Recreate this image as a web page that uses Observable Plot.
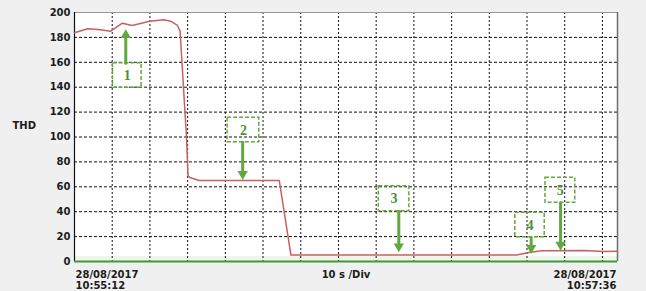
<!DOCTYPE html>
<html>
<head>
<meta charset="utf-8">
<script src="https://cdn.jsdelivr.net/npm/d3@7"></script>
<script src="https://cdn.jsdelivr.net/npm/@observablehq/plot@0.6"></script>
<style>
  html, body { margin: 0; padding: 0; background: #f0f0f0; }
</style>
</head>
<body>
<div id="chart"></div>
<script>
// ---- data (seconds since 10:55:12, THD value) ----
const times = [0, 3.5, 6.9, 9.6, 12.7, 15.3, 20, 23.7, 25.5, 27.3, 28.0, 29.7, 30.1, 30.6, 33, 54.3, 57.4, 117.2, 120.5, 123.8, 135, 140.5, 144];
const thd   = [183.7, 186.9, 186.1, 185, 191.4, 189.6, 193, 194.1, 193, 189.6, 185, 100, 69, 67.5, 65.1, 65.1, 5.2, 5.2, 7.2, 8.6, 8.8, 8.0, 8.2];

// axis ticks / gridlines
const yTicks = [0, 20, 40, 60, 80, 100, 120, 140, 160, 180, 200];
const yGrid = [20, 40, 60, 80, 100, 120, 140, 160, 180];
const xGrid = [10, 20, 30, 40, 50, 60, 70, 80, 90, 100, 110, 120, 130, 140];
const xDomain = [0, 144];
const yDomain = [0, 200];

// text labels
const yLabel = "THD";
const startLabel = "28/08/2017\n10:55:12";
const endLabel = "28/08/2017\n10:57:36";
const unitLabel = "10 s /Div";

// annotation boxes
const boxLabels = ["1", "2", "3", "4", "5"];
const boxT1 = [10.2, 40.6, 80.7, 116.9, 124.9];
const boxT2 = [17.8, 49.0, 88.8, 124.7, 132.8];
const boxLow = [139.5, 95.8, 40.4, 19.5, 47.1];
const boxHigh = [159.3, 115.4, 60.5, 39.1, 67.2];
// arrows
const arrowT = [13.6, 44.6, 86.0, 121.1, 128.9];
const arrowFrom = [159.3, 95.8, 40.4, 19.5, 47.1];
const arrowTo = [186.5, 65.6, 7.5, 6.2, 8.8];
const arrowUp = [true, false, false, false, false];

// ---- build tables ----
const series = times.map((t, i) => ({t, v: thd[i]}));
const boxes = boxLabels.map((label, i) => ({label, t1: boxT1[i], t2: boxT2[i], lo: boxLow[i], hi: boxHigh[i]}));
const arrows = arrowT.map((t, i) => ({t, from: arrowFrom[i], to: arrowTo[i], up: arrowUp[i]}));

const green = "#62a83e";
const textColor = "#1c1c1c";

const chart = Plot.plot({
  width: 646,
  height: 291,
  marginLeft: 74,
  marginRight: 29,
  marginTop: 12,
  marginBottom: 30,
  style: {background: "#f0f0f0", fontFamily: "DejaVu Sans", fontSize: "10px", fontWeight: "bold", color: textColor},
  x: {domain: xDomain, axis: null},
  y: {domain: yDomain, axis: null},
  marks: [
    Plot.frame({fill: "white", stroke: "none"}),
    Plot.rect([0], {x1: xDomain[0], x2: xDomain[1], y1: 0, y2: 4, fill: "#eef6ea"}),
    Plot.ruleY(yGrid, {stroke: "#111", strokeWidth: 1, strokeDasharray: "3,2"}),
    Plot.ruleX(xGrid, {stroke: "#111", strokeWidth: 1, strokeDasharray: "2,2"}),
    Plot.ruleY([yDomain[1]], {stroke: "#9a9a9a", strokeWidth: 1}),
    Plot.ruleX([xDomain[1]], {stroke: "#6e6e6e", strokeWidth: 1.5}),
    Plot.ruleX([xDomain[0]], {stroke: "#111", strokeWidth: 1.2}),
    Plot.line(series, {x: "t", y: "v", stroke: "#c8605f", strokeWidth: 1.5}),
    Plot.ruleY([0], {stroke: "#3f9a3a", strokeWidth: 2}),
    // annotation boxes
    Plot.rect(boxes, {x1: "t1", x2: "t2", y1: "lo", y2: "hi", fill: "none", stroke: green, strokeWidth: 1.5, strokeDasharray: "4,2"}),
    Plot.text(boxes, {x: d => (d.t1 + d.t2) / 2, y: d => (d.lo + d.hi) / 2, text: "label", fill: "#4e8f34", fontFamily: "Liberation Serif", fontSize: 14, fontWeight: "bold"}),
    // arrow shafts
    Plot.arrow(arrows, {x1: "t", x2: "t", y1: "from", y2: "to", stroke: green, strokeWidth: 3, headLength: 0, insetEnd: 6}),
    // arrow heads
    Plot.dot(arrows.filter(d => d.up), {x: "t", y: "to", symbol: "triangle", r: 3.8, fill: green, stroke: "none", dy: 5.8}),
    Plot.dot(arrows.filter(d => !d.up), {x: "t", y: "to", symbol: "triangle", r: 3.8, fill: green, stroke: "none", rotate: 180, dy: -5.8}),
    // y axis labels
    Plot.axisY(yTicks, {tickSize: 0, tickPadding: 4, fontWeight: "bold", fontSize: 10, fill: textColor, label: null}),
    Plot.text([yLabel], {frameAnchor: "left", y: 109, text: d => d, textAnchor: "start", dx: -62, fill: textColor, fontWeight: "bold", fontSize: 10}),
    // x labels
    Plot.text([startLabel], {frameAnchor: "bottom-left", text: d => d, textAnchor: "start", lineAnchor: "top", dx: 1, dy: 9, lineHeight: 1.1, fill: textColor, fontWeight: "bold", fontSize: 10}),
    Plot.text([endLabel], {frameAnchor: "bottom-right", text: d => d, textAnchor: "end", lineAnchor: "top", dx: -1, dy: 9, lineHeight: 1.1, fill: textColor, fontWeight: "bold", fontSize: 10}),
    Plot.text([unitLabel], {frameAnchor: "bottom", text: d => d, lineAnchor: "top", dy: 9, fill: textColor, fontWeight: "bold", fontSize: 10})
  ]
});
document.getElementById("chart").appendChild(chart);
</script>
</body>
</html>
